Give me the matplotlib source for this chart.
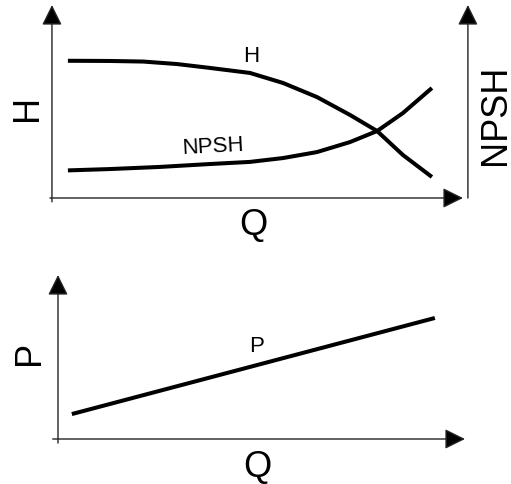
import matplotlib
matplotlib.use("Agg")
import matplotlib.pyplot as plt

plt.rcParams['font.family'] = ['Liberation Sans', 'DejaVu Sans']

# pump curves (Q and values in 0..100 relative units)
q_head = [3.4, 13.7, 21.8, 30.1, 38.1, 47.9, 56.0, 64.3, 72.4, 79.0, 85.3, 92.4]
head = [71.1, 71.0, 70.7, 69.4, 67.4, 64.8, 59.6, 52.3, 43.0, 34.7, 22.3, 10.9]

q_npsh = [3.4, 13.7, 25.9, 38.1, 47.9, 56.0, 64.3, 72.4, 79.0, 85.3, 92.4]
npsh = [14.3, 15.0, 16.1, 17.6, 18.7, 20.7, 23.8, 29.0, 34.7, 44.0, 57.0]

q_power = [3.4, 92.6]
power = [15.2, 73.8]

W, H = 511, 484
fig = plt.figure(figsize=(W / 100, H / 100), dpi=100)


def px_axes(x0, y0, x1, y1):
    # axes from pixel box (x0,y0 = axis cross, x1 = x arrow tip, y1 = y arrow tip)
    ax = fig.add_axes([x0 / W, 1 - y0 / H, (x1 - x0) / W, (y0 - y1) / H])
    ax.set_xlim(0, 100)
    ax.set_ylim(0, 100)
    ax.axis('off')
    return ax


def arrow(ax, start, end):
    ax.annotate('', xy=end, xytext=start, xycoords='axes fraction',
                arrowprops=dict(arrowstyle='-|>,head_length=1.25,head_width=0.62',
                                mutation_scale=10, lw=1.0, color='#222222',
                                fc='black', shrinkA=0, shrinkB=0),
                annotation_clip=False)


lw_curve = 2.9

# top panel
ax1 = px_axes(54, 198, 463, 5)
arrow(ax1, (-0.005, -0.02), (-0.005, 1.0))
arrow(ax1, (-0.01, 0.0), (1.0, 0.0))
arrow(ax1, (1.012, 0.0), (1.012, 1.0))
ax1.plot(q_head, head, color='black', lw=lw_curve, solid_capstyle='butt',
         solid_joinstyle='round', clip_on=False)
ax1.plot(q_npsh, npsh, color='black', lw=lw_curve, solid_capstyle='butt',
         solid_joinstyle='round', clip_on=False)

# bottom panel
ax2 = px_axes(58, 439, 465, 275)
arrow(ax2, (0.0, -0.025), (0.0, 1.0))
arrow(ax2, (-0.013, 0.0), (1.0, 0.0))
ax2.plot(q_power, power, color='black', lw=lw_curve, solid_capstyle='butt', clip_on=False)


def label(x, y, s, size, rot=0):
    fig.text(x / W, 1 - y / H, s, fontsize=size, rotation=rot,
             ha='center', va='center')


big = 26
small = 16
label(27, 108, 'H', big, 90)
label(495, 115, 'NPSH', big, 90)
label(253, 225, 'Q', big)
label(251, 56, 'H', small)
label(213, 147, 'NPSH', small, 3)

label(30, 353, 'P', big, 90)
label(257, 467, 'Q', big)
label(257, 347, 'P', small)

fig.savefig('out.png', dpi=100)
